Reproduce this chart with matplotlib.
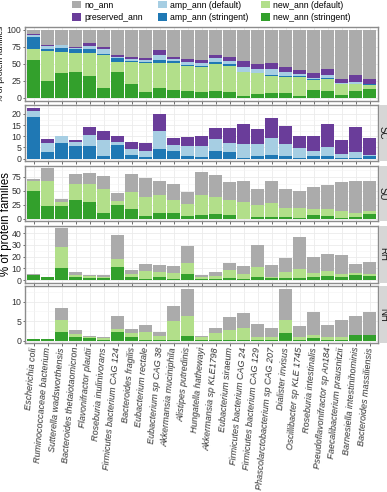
import matplotlib.pyplot as plt
from matplotlib.patches import Patch
from matplotlib.ticker import MultipleLocator
import numpy as np

plt.rcParams['font.family'] = ['Liberation Sans', 'DejaVu Sans']

species = ['Escherichia coli', 'Ruminococcaceae bacterium', 'Sutterella wadsworthensis',
           'Bacteroides thetaiotaomicron', 'Flavonifractor plautii', 'Roseburia inulinivorans',
           'Firmicutes bacterium CAG 124', 'Bacteroides fragilis', 'Eubacterium rectale',
           'Eubacterium sp CAG 38', 'Akkermansia muciniphila', 'Alistipes putredinis',
           'Hungatella hathewayi', 'Akkermansia sp KLE1798', 'Eubacterium siraeum',
           'Firmicutes bacterium CAG 24', 'Firmicutes bacterium CAG 129',
           'Phascolarctobacterium sp CAG 207', 'Dialister invisus', 'Oscillibacter sp KLE 1745',
           'Roseburia intestinalis', 'Pseudoflavonifractor sp An184', 'Faecalibacterium prausnitzii',
           'Barnesiella intestinihominis', 'Bacteroides massiliensis']

# all families (top panel)
all_new_str = [55.7, 25.1, 36.0, 37.4, 32.0, 14.8, 38.4, 20.7, 8.4, 13.8, 10.8, 10.3, 8.9,
               10.3, 8.9, 2.0, 5.9, 6.4, 7.4, 3.0, 11.3, 9.4, 4.4, 9.4, 12.3]
all_new_def = [15.7, 43.9, 31.0, 29.1, 34.5, 48.2, 14.8, 32.5, 43.3, 36.9, 39.9, 37.0, 36.9,
               39.0, 37.9, 36.4, 30.1, 26.1, 23.6, 28.0, 14.8, 18.2, 15.3, 10.3, 6.4]
all_no_ann = [5.8, 22.2, 22.7, 25.1, 19.3, 24.8, 36.7, 39.3, 41.4, 29.4, 40.2, 42.8, 43.9,
              37.1, 39.4, 46.1, 50.6, 49.3, 54.5, 58.7, 63.8, 57.1, 72.1, 66.1, 71.9]

# SC (also the amp / preserved part of the top panel)
amp_str = [18.5, 3.1, 6.9, 5.5, 5.8, 1.0, 6.1, 1.5, 0.7, 4.3, 3.6, 1.3, 0.8, 3.6, 2.9, 0.2,
           1.0, 1.7, 1.3, 0.4, 1.2, 1.3, 0.1, 0.4, 1.0]
amp_def = [3.0, 3.8, 3.4, 1.8, 4.6, 7.5, 1.5, 3.0, 2.7, 8.1, 2.7, 4.4, 4.9, 5.1, 4.3, 6.4,
           5.6, 7.6, 5.1, 4.2, 2.2, 3.9, 2.1, 2.6, 0.7]
preserved = [1.3, 1.9, 0.0, 1.1, 3.8, 3.7, 2.5, 3.0, 3.5, 7.5, 2.8, 4.2, 4.6, 4.9, 6.6, 8.9,
             6.8, 8.9, 8.1, 5.7, 6.7, 10.1, 6.0, 11.2, 7.7]

# SU
su_new_str = [49.7, 23.1, 23.1, 33.7, 30.2, 11.2, 25.4, 17.2, 5.9, 11.2, 10.0, 5.3, 6.5, 9.5,
              7.1, 0.5, 3.6, 4.1, 3.0, 1.2, 7.1, 5.3, 2.4, 3.6, 8.3]
su_new_def = [16.6, 44.9, 7.7, 27.3, 31.3, 42.6, 7.1, 29.8, 33.1, 31.4, 24.3, 20.7, 35.5, 30.1,
              26.6, 30.3, 21.3, 23.7, 15.9, 17.7, 10.1, 12.5, 11.8, 7.6, 6.5]
su_no_ann = [4.1, 22.0, 4.1, 19.0, 20.0, 22.5, 12.5, 32.0, 33.0, 24.4, 27.2, 21.5, 41.0, 38.4,
             31.8, 35.7, 28.6, 38.7, 34.4, 30.9, 38.6, 41.4, 51.8, 55.8, 53.2]

# RH
rh_new_str = [4.3, 2.3, 10.0, 2.3, 2.0, 1.4, 10.9, 2.3, 1.1, 2.3, 0.9, 5.1, 1.1, 1.1, 1.4, 0.6,
              2.3, 1.4, 1.7, 1.7, 2.3, 3.1, 2.3, 4.6, 3.4]
rh_new_def = [0.3, 0.0, 18.3, 2.3, 1.4, 0.9, 7.4, 2.8, 6.6, 4.6, 4.8, 9.8, 1.5, 2.3, 7.2, 4.5,
              9.1, 1.5, 5.4, 7.4, 3.4, 4.6, 2.8, 1.7, 1.7]
rh_no_ann = [0.8, 0.0, 16.0, 2.3, 1.2, 1.7, 20.6, 3.5, 6.0, 5.7, 6.3, 14.2, 2.0, 3.5, 6.3, 6.9,
             18.3, 10.0, 11.8, 28.0, 14.3, 14.3, 16.0, 7.4, 10.6]

# NH
nh_new_str = [0.4, 0.4, 2.3, 1.0, 0.7, 0.2, 2.2, 0.85, 0.3, 0.3, 0.2, 1.3, 0.1, 0.3, 0.3, 0.1,
              0.1, 0.1, 1.9, 0.1, 0.6, 0.1, 0.1, 1.4, 1.5]
nh_new_def = [0.0, 0.0, 3.0, 0.7, 0.15, 0.4, 0.7, 1.05, 2.0, 0.9, 4.8, 5.1, 0.75, 1.8, 2.4, 3.1,
              0.9, 0.9, 3.4, 0.9, 0.9, 0.75, 0.75, 0.1, 0.0]
nh_no_ann = [0.0, 0.0, 3.2, 1.1, 0.35, 0.3, 3.4, 1.0, 1.6, 1.0, 4.0, 6.9, 0.45, 1.2, 3.3, 3.8,
             3.3, 2.2, 7.9, 2.7, 5.8, 3.05, 4.55, 4.8, 5.9]

colors = {'new_ann (stringent)': '#33A02C', 'new_ann (default)': '#B2DF8A',
          'amp_ann (stringent)': '#1F78B4', 'amp_ann (default)': '#A6CEE3',
          'preserved_ann': '#6A3D9A', 'no_ann': '#ABABAB'}

panels = [
    (None, [('new_ann (stringent)', all_new_str), ('new_ann (default)', all_new_def),
            ('amp_ann (stringent)', amp_str), ('amp_ann (default)', amp_def),
            ('preserved_ann', preserved), ('no_ann', all_no_ann)], 25, 26.6, 101.1),
    ('SC', [('amp_ann (stringent)', amp_str), ('amp_ann (default)', amp_def),
            ('preserved_ann', preserved)], 5, 105.2, 161.2),
    ('SU', [('new_ann (stringent)', su_new_str), ('new_ann (default)', su_new_def),
            ('no_ann', su_no_ann)], 25, 165.6, 221.4),
    ('RH', [('new_ann (stringent)', rh_new_str), ('new_ann (default)', rh_new_def),
            ('no_ann', rh_no_ann)], 10, 225.7, 282.6),
    ('NH', [('new_ann (stringent)', nh_new_str), ('new_ann (default)', nh_new_def),
            ('no_ann', nh_no_ann)], 5, 286.2, 343.3),
]

W, H = 387, 492
fig = plt.figure(figsize=(W / 100, H / 100), dpi=100)
x = np.arange(len(species))
x0, x1 = 25.3, 378.1

for i, (strip, segs, step, ytop, ybot) in enumerate(panels):
    ax = fig.add_axes([x0 / W, 1 - ybot / H, (x1 - x0) / W, (ybot - ytop) / H])
    bottom = np.zeros(len(species))
    for name, vals in segs:
        ax.bar(x, vals, width=0.9, bottom=bottom, color=colors[name], linewidth=0, zorder=2)
        bottom += np.array(vals)
    m = bottom.max()
    ax.set_ylim(-0.05 * m, 1.05 * m)
    ax.set_xlim(-0.6, len(species) - 0.4)
    ax.yaxis.set_major_locator(MultipleLocator(step))
    ax.yaxis.set_minor_locator(MultipleLocator(step / 2))
    ax.grid(True, which='major', color='#EBEBEB', linewidth=0.6, zorder=0)
    ax.grid(True, which='minor', axis='y', color='#F4F4F4', linewidth=0.4, zorder=0)
    ax.set_axisbelow(True)
    ax.tick_params(axis='both', which='major', length=1.8, width=0.6, color='#555555',
                   labelsize=6.3, labelcolor='#333333', pad=1.0)
    ax.tick_params(axis='y', which='minor', length=0)
    for sp in ax.spines.values():
        sp.set_color('#8C8C8C')
        sp.set_linewidth(1.0)
    ax.set_xticks(x)
    if i == len(panels) - 1:
        ax.set_xticklabels(species, rotation=85, ha='right', va='center',
                           rotation_mode='anchor', style='italic', fontsize=6.5)
    else:
        ax.set_xticklabels([])
    if strip:
        sax = fig.add_axes([378.8 / W, 1 - ybot / H, (W - 378.8) / W, (ybot - ytop) / H])
        sax.set_facecolor('#D6D6D6')
        sax.set_xticks([])
        sax.set_yticks([])
        for sp in sax.spines.values():
            sp.set_visible(False)
        sax.text(0.5, 0.5, strip, rotation=-90, ha='center', va='center',
                 fontsize=7, color='#1A1A1A', transform=sax.transAxes)
    if i == 0:
        ax.set_ylabel('% of protein families', fontsize=6)
        ax.yaxis.set_label_coords((5.5 - x0) / (x1 - x0), 0.5)

fig.text(6.3 / W, 1 - 224 / H, '% of protein families', rotation=90, ha='center',
         va='center', fontsize=8.3)

legend_cols = [(72, ['no_ann', 'preserved_ann']),
               (158, ['amp_ann (default)', 'amp_ann (stringent)']),
               (261, ['new_ann (default)', 'new_ann (stringent)'])]
for lx, names in legend_cols:
    handles = [Patch(facecolor=colors[n], edgecolor='none', label=n) for n in names]
    fig.legend(handles=handles, ncol=1, loc='upper left', bbox_to_anchor=(lx / W, 1 - 0.5 / H),
               frameon=False, fontsize=6.3, handlelength=1.05, handleheight=0.95,
               handletextpad=0.35, labelspacing=0.4, borderpad=0, borderaxespad=0)

fig.savefig('out.png', dpi=100)
